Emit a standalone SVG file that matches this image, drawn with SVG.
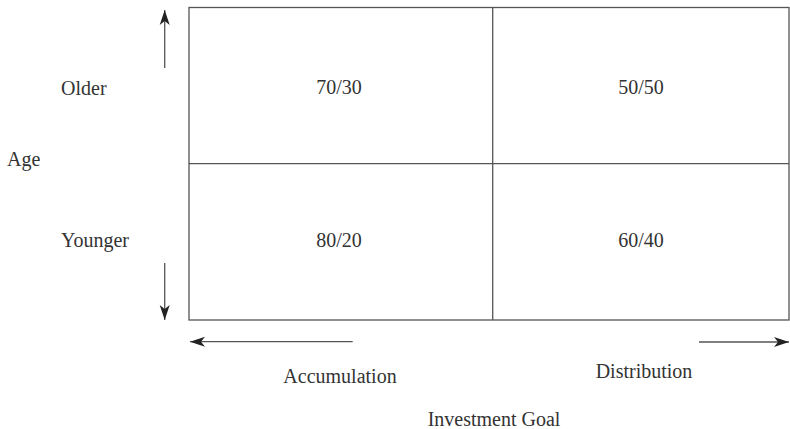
<svg xmlns="http://www.w3.org/2000/svg" width="790" height="429" viewBox="0 0 790 429">
<style>
.t{font-family:"Liberation Serif","Times New Roman",serif;font-size:20px;fill:#333}
.ln{stroke:#555;stroke-width:1.3;fill:none}
.ar{stroke:#555;stroke-width:1.3;fill:none;marker-end:url(#ah)}
</style>
<defs>
<marker id="ah" markerUnits="userSpaceOnUse" markerWidth="20" markerHeight="14" viewBox="-16 -7 18 14" refX="0" refY="0" orient="auto">
<path d="M0,0 L-15,-5 L-11,0 L-15,5 Z" fill="#222"/>
</marker>
</defs>
<rect width="790" height="429" fill="#fff"/>
<g id="grid">
<rect class="ln" x="189" y="7.5" width="600" height="312.5"/>
<line class="ln" x1="492.7" y1="7.5" x2="492.7" y2="320"/>
<line class="ln" x1="189" y1="163.7" x2="789" y2="163.7"/>
</g>
<g id="cell-70-30"><text class="t" x="339" y="94" text-anchor="middle">70/30</text></g>
<g id="cell-50-50"><text class="t" x="641" y="94" text-anchor="middle">50/50</text></g>
<g id="cell-80-20"><text class="t" x="339" y="247" text-anchor="middle">80/20</text></g>
<g id="cell-60-40"><text class="t" x="641" y="247" text-anchor="middle">60/40</text></g>
<g id="label-older"><text class="t" x="61" y="95">Older</text></g>
<g id="label-younger"><text class="t" x="61" y="247">Younger</text></g>
<g id="label-age"><text class="t" x="7" y="166">Age</text></g>
<g id="label-accumulation"><text class="t" x="340" y="383" text-anchor="middle">Accumulation</text></g>
<g id="label-distribution"><text class="t" x="644" y="378" text-anchor="middle">Distribution</text></g>
<g id="label-goal"><text class="t" x="494" y="426" text-anchor="middle">Investment Goal</text></g>
<g id="connectors">
<line class="ar" x1="164.7" y1="68" x2="164.7" y2="10"/>
<line class="ar" x1="164.7" y1="263" x2="164.7" y2="320"/>
<line class="ar" x1="352.7" y1="341.7" x2="190" y2="341.7"/>
<line class="ar" x1="699" y1="342" x2="789" y2="342"/>
</g>
</svg>
